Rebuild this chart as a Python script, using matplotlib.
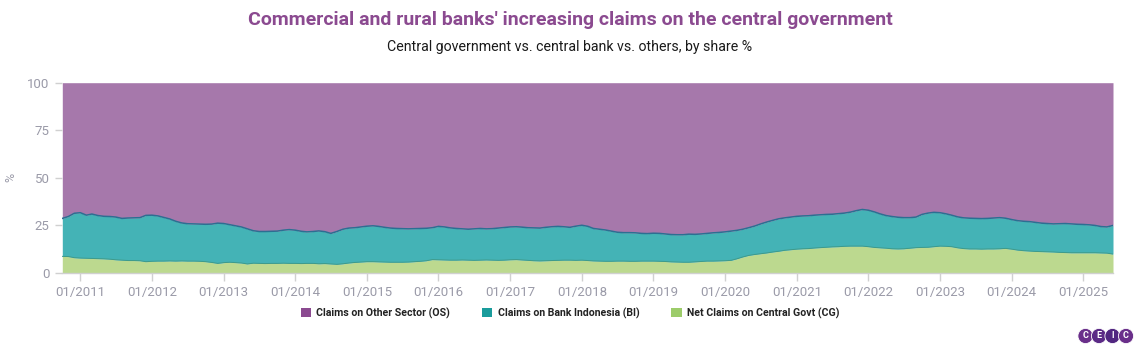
import numpy as np
import pandas as pd
import matplotlib
matplotlib.use("Agg")
import matplotlib.pyplot as plt
import matplotlib.dates as mdates
from matplotlib.patches import Patch, Circle

plt.rcParams['font.family'] = ['Roboto', 'DejaVu Sans']

# ---------------- data (monthly, Oct 2010 - Jun 2025), share % ----------------
start_month = "2010-10-01"

# Net Claims on Central Govt (CG) share
cg_share = [
    8.5, 8.4, 7.8,
    7.6, 7.5, 7.4, 7.3, 7.2, 7.0, 6.7, 6.5, 6.3, 6.3, 6.2, 5.7,
    5.9, 6.0, 6.0, 6.1, 6.0, 6.1, 6.0, 6.0, 5.9, 5.7, 5.3, 4.8,
    5.2, 5.4, 5.2, 5.0, 4.5, 4.9, 4.8, 4.7, 4.8, 4.8, 4.9, 4.8,
    4.8, 4.7, 4.8, 4.8, 4.6, 4.7, 4.5, 4.3, 4.6, 5.0, 5.3, 5.5,
    5.7, 5.7, 5.6, 5.5, 5.4, 5.4, 5.4, 5.5, 5.7, 5.9, 6.2, 6.8,
    6.7, 6.6, 6.5, 6.5, 6.6, 6.5, 6.4, 6.5, 6.6, 6.5, 6.4, 6.5,
    6.7, 6.8, 6.6, 6.4, 6.2, 6.1, 6.2, 6.3, 6.4, 6.5, 6.5, 6.4,
    6.5, 6.3, 6.1, 6.0, 5.9, 5.9, 6.0, 6.0, 5.9, 5.9, 6.0, 6.0,
    6.0, 5.9, 5.8, 5.6, 5.5, 5.4, 5.4, 5.6, 5.8, 6.0, 6.0, 6.1,
    6.2, 6.4, 7.2, 8.2, 9.0, 9.5, 9.9, 10.3, 10.8, 11.2, 11.7, 12.0,
    12.3, 12.5, 12.6, 12.9, 13.1, 13.3, 13.5, 13.6, 13.8, 13.9, 13.9, 13.9,
    13.6, 13.2, 13.0, 12.8, 12.5, 12.4, 12.5, 12.8, 13.1, 13.2, 13.3, 13.6,
    13.9, 13.8, 13.6, 13.0, 12.6, 12.4, 12.4, 12.3, 12.4, 12.4, 12.5, 12.7,
    12.3, 11.8, 11.5, 11.3, 11.1, 11.0, 10.9, 10.8, 10.6, 10.5, 10.4, 10.4,
    10.4, 10.4, 10.4, 10.3, 10.2, 9.7,
]

# CG + Claims on Bank Indonesia (BI), cumulative share (top of teal band)
cg_bi_share = [
    28.5, 29.5, 31.2,
    31.5, 30.2, 30.8, 30.0, 29.6, 29.5, 29.2, 28.5, 28.7, 28.8, 28.9, 30.1,
    30.2, 29.8, 29.0, 28.2, 27.0, 26.1, 25.7, 25.6, 25.5, 25.4, 25.5, 26.0,
    25.8, 25.2, 24.6, 24.0, 23.0, 22.0, 21.6, 21.6, 21.7, 21.8, 22.3, 22.6,
    22.3, 21.7, 21.4, 21.6, 21.9, 21.5, 20.6, 21.6, 22.8, 23.4, 23.6, 24.0,
    24.4, 24.6, 24.3, 23.8, 23.4, 23.2, 23.1, 23.0, 23.1, 23.2, 23.3, 23.6,
    24.3, 24.0, 23.5, 23.2, 23.0, 22.8, 23.0, 23.2, 23.0, 23.1, 23.4, 23.7,
    24.0, 24.1, 23.9, 23.6, 23.5, 23.4, 23.8, 24.1, 24.3, 24.1, 23.8, 24.4,
    24.9, 24.3, 23.2, 22.8, 22.4, 21.8, 21.2, 21.0, 21.0, 20.9, 20.6, 20.5,
    20.7, 20.6, 20.3, 20.0, 19.9, 19.9, 20.2, 20.1, 20.3, 20.6, 20.9, 21.1,
    21.4, 21.8, 22.2, 22.8, 23.6, 24.5, 25.6, 26.6, 27.5, 28.3, 28.8, 29.2,
    29.6, 29.8, 29.9, 30.2, 30.4, 30.6, 30.7, 31.0, 31.3, 31.8, 32.6, 33.2,
    32.8, 31.9, 30.9, 30.0, 29.5, 29.1, 28.9, 28.9, 29.2, 30.6, 31.3, 31.7,
    31.5, 30.9, 30.2, 29.3, 28.8, 28.6, 28.5, 28.4, 28.5, 28.7, 28.9, 28.6,
    27.9, 27.3, 27.0, 26.8, 26.4, 26.0, 25.8, 25.6, 25.7, 25.8, 25.6, 25.4,
    25.3, 25.1, 24.8, 24.2, 24.0, 24.8,
]

series_names = ["Claims on Other Sector (OS)", "Claims on Bank Indonesia (BI)",
                "Net Claims on Central Govt (CG)"]
y_ticks = [0, 25, 50, 75, 100]

cg = np.array(cg_share)
top_bi = np.array(cg_bi_share)
bi = top_bi - cg
os_ = 100.0 - top_bi
dates = pd.date_range(start_month, periods=len(cg), freq="MS")

# ---------------- styling ----------------
c_os_fill, c_bi_fill, c_cg_fill = "#a678ab", "#44b3b6", "#bcd98f"
c_os_leg, c_bi_leg, c_cg_leg = "#8b4a90", "#1a9c9c", "#9ccc6a"
c_bi_line, c_cg_line = "#2c6f92", "#3f9a8a"

W, H = 1140, 353
fig = plt.figure(figsize=(W / 100, H / 100), dpi=100)
ax = fig.add_axes([62.3 / W, 1 - 272.5 / H, (1113 - 62.3) / W, (272.5 - 82.7) / H])

ax.fill_between(dates, 0, cg, color=c_cg_fill, lw=0)
ax.fill_between(dates, cg, cg + bi, color=c_bi_fill, lw=0)
ax.fill_between(dates, cg + bi, cg + bi + os_, color=c_os_fill, lw=0)
ax.plot(dates, cg + bi, color=c_bi_line, lw=1.1)
ax.plot(dates, cg, color=c_cg_line, lw=0.7)

ax.set_xlim(dates[0], dates[-1])
ax.set_ylim(0, 100)
ax.set_yticks(y_ticks)
ax.xaxis.set_major_locator(mdates.YearLocator(1, month=1, day=1))
ax.xaxis.set_major_formatter(mdates.DateFormatter("%m/%Y"))

for s in ["top", "right", "left"]:
    ax.spines[s].set_visible(False)
ax.spines["bottom"].set_color("#d0d0d0")
ax.spines["bottom"].set_linewidth(1.0)
ax.tick_params(axis="x", colors="#d0d0d0", labelcolor="#9a9aa8", labelsize=9.5,
               length=6, width=1.0, pad=4)
ax.tick_params(axis="y", colors="#d0d0d0", labelcolor="#9a9aa8", labelsize=9.5,
               length=5, width=1.0, pad=4)
ax.set_ylabel("%", color="#9a9aa8", fontsize=9)
ax.yaxis.set_label_coords((17 - 62.3) / (1113 - 62.3), 0.5)

# titles
fig.text(0.5, 1 - 20 / H, "Commercial and rural banks' increasing claims on the central government",
         ha="center", va="center", fontsize=14, fontweight="bold", color="#8b4a90")
fig.text(0.5, 1 - 47 / H, "Central government vs. central bank vs. others, by share %",
         ha="center", va="center", fontsize=10.2, color="#1a1a1a")

# legend
handles = [Patch(facecolor=c, edgecolor="none") for c in (c_os_leg, c_bi_leg, c_cg_leg)]
leg = fig.legend(handles, series_names, loc="center", bbox_to_anchor=(0.5, 1 - 313 / H),
                 ncol=3, frameon=False, fontsize=7.6, handlelength=1.0, handleheight=1.0,
                 columnspacing=3.0, handletextpad=0.5)
for t in leg.get_texts():
    t.set_fontweight("bold")
    t.set_color("#222222")

# CEIC logo
logo_cols = ["#6a2f8a", "#5b2a86", "#512680", "#6a2f8a"]
for i, (ch, col) in enumerate(zip("CEIC", logo_cols)):
    px, py = 1085.5 + i * 13.5, H - 336
    fig.patches.append(Circle((px, py), 7.6, transform=None, facecolor=col,
                              edgecolor="white", lw=0.6, figure=fig))
    fig.text(px / W, py / H, ch, ha="center", va="center", fontsize=6.5,
             fontweight="bold", color="white")

fig.savefig("out.png", dpi=100)
